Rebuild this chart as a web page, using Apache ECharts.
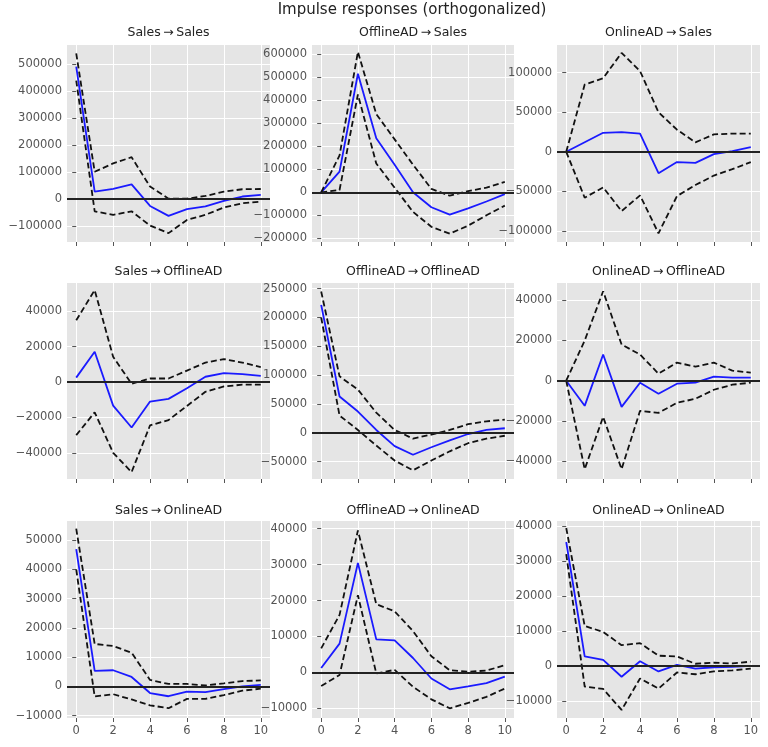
<!DOCTYPE html>
<html>
<head>
<meta charset="utf-8">
<script src="https://cdn.jsdelivr.net/npm/echarts@6/dist/echarts.min.js"></script>
<style>
html, body { margin: 0; padding: 0; background: #fff; }
#main { width: 768px; height: 747px; }
</style>
</head>
<body>
<div id="main"></div>
<script>
var lags = [0, 1, 2, 3, 4, 5, 6, 7, 8, 9, 10];
var xTicks = [0, 2, 4, 6, 8, 10];
var names = ['Sales', 'OfflineAD', 'OnlineAD'];

// response: Sales
var salesToSales    = [492000, 27000, 37000, 54000, -26000, -63000, -38000, -28000, -7000, 9000, 15000];
var salesToSalesUp  = [541000, 101000, 132000, 155000, 46000, 1000, 1000, 11000, 27000, 36000, 37000];
var salesToSalesLo  = [440000, -46000, -59000, -46000, -99000, -127000, -78000, -59000, -32000, -16000, -10000];
var offToSales      = [0, 90000, 515000, 235000, 120000, 0, -65000, -97000, -70000, -40000, -8000];
var offToSalesUp    = [0, 160000, 610000, 340000, 230000, 120000, 15000, -15000, 5000, 20000, 45000];
var offToSalesLo    = [0, 10000, 425000, 125000, 20000, -85000, -150000, -180000, -145000, -100000, -58000];
var onToSales       = [0, 12000, 24000, 25000, 23000, -27000, -13000, -14000, -3000, 1000, 6000];
var onToSalesUp     = [0, 85000, 93000, 125000, 102000, 50000, 28000, 12000, 22000, 23000, 23000];
var onToSalesLo     = [0, -58000, -45000, -75000, -55000, -103000, -56000, -42000, -30000, -22000, -13000];

// response: OfflineAD
var salesToOff      = [2500, 17100, -13300, -25700, -11000, -9500, -3500, 3000, 5000, 4500, 3500];
var salesToOffUp    = [34900, 52000, 14300, -1000, 2000, 2000, 6500, 11000, 13000, 11000, 8500];
var salesToOffLo    = [-30000, -17100, -40000, -50900, -24500, -21500, -13500, -5500, -2500, -1500, -1500];
var offToOff        = [222000, 63000, 37000, 5000, -23000, -38000, -25000, -13000, -2000, 5000, 8000];
var offToOffUp      = [245000, 98000, 75000, 35000, 5000, -10000, -3000, 5000, 15000, 20000, 23000];
var offToOffLo      = [200000, 30000, 5000, -22000, -48000, -65000, -48000, -32000, -18000, -10000, -5000];
var onToOff         = [0, -12500, 13000, -13000, -1000, -6500, -1500, -1000, 2000, 1500, 1500];
var onToOffUp       = [0, 20000, 44500, 18000, 13000, 3500, 9000, 7000, 9000, 5000, 4000];
var onToOffLo       = [0, -44000, -18000, -44000, -15000, -16000, -11000, -9000, -4500, -2000, -1000];

// response: OnlineAD
var salesToOn       = [47000, 5300, 5500, 3200, -2300, -3400, -1800, -2000, -1000, 0, 500];
var salesToOnUp     = [54000, 14500, 13800, 11500, 2200, 800, 800, 300, 1000, 1800, 2000];
var salesToOnLo     = [40000, -3500, -2700, -4500, -6500, -7500, -4300, -4300, -3000, -1500, -800];
var offToOn         = [1200, 8000, 30500, 9200, 8900, 4000, -1700, -4700, -3900, -3000, -1200];
var offToOnUp       = [6700, 16000, 39500, 19000, 17000, 11500, 4500, 600, 200, 500, 2000];
var offToOnLo       = [-3800, -700, 21500, -300, 700, -4000, -7500, -10000, -8500, -6800, -4500];
var onToOn          = [35500, 2800, 1800, -3000, 1400, -1500, 400, -700, -300, -200, 100];
var onToOnUp        = [39500, 11500, 9800, 6000, 6600, 3000, 2800, 700, 1000, 800, 1300];
var onToOnLo        = [32000, -5800, -6500, -12500, -3500, -6400, -1800, -2300, -1500, -1200, -700];

// y tick labels per panel (row-major)
var yTicksSalesSales = [-100000, 0, 100000, 200000, 300000, 400000, 500000];
var yTicksOffSales   = [-200000, -100000, 0, 100000, 200000, 300000, 400000, 500000, 600000];
var yTicksOnSales    = [-100000, -50000, 0, 50000, 100000];
var yTicksSalesOff   = [-40000, -20000, 0, 20000, 40000];
var yTicksOffOff     = [-50000, 0, 50000, 100000, 150000, 200000, 250000];
var yTicksOnOff      = [-40000, -20000, 0, 20000, 40000];
var yTicksSalesOn    = [-10000, 0, 10000, 20000, 30000, 40000, 50000];
var yTicksOffOn      = [-10000, 0, 10000, 20000, 30000, 40000];
var yTicksOnOn       = [-10000, 0, 10000, 20000, 30000, 40000];

// y axis limits per panel
var yMins = [-160000, -216000, -114000, -54800, -80000, -48900, -10850, -12700, -14800];
var yMaxs = [572000, 640000, 135000, 56000, 259800, 48600, 56600, 42150, 41500];

var irfs   = [salesToSales, offToSales, onToSales, salesToOff, offToOff, onToOff, salesToOn, offToOn, onToOn];
var uppers = [salesToSalesUp, offToSalesUp, onToSalesUp, salesToOffUp, offToOffUp, onToOffUp, salesToOnUp, offToOnUp, onToOnUp];
var lowers = [salesToSalesLo, offToSalesLo, onToSalesLo, salesToOffLo, offToOffLo, onToOffLo, salesToOnLo, offToOnLo, onToOnLo];
var yTicks = [yTicksSalesSales, yTicksOffSales, yTicksOnSales, yTicksSalesOff, yTicksOffOff, yTicksOnOff, yTicksSalesOn, yTicksOffOn, yTicksOnOn];

var colLeft = [67, 312, 557];
var colWidth = [203, 202, 203];
var rowTop = [45, 283, 521];
var rowHeight = [197, 196, 197];
var titleY = [33, 272, 511];

var font = 'DejaVu Sans';
var chartDom = document.getElementById('main');
var myChart = echarts.init(chartDom);

function pairs(vals) {
    return lags.map(function (l, k) { return [l, vals[k]]; });
}

var grids = [], xAxes = [], yAxes = [], series = [], texts = [];

texts.push({
    type: 'text', x: 412, y: 10,
    style: { text: 'Impulse responses (orthogonalized)', font: '15px "' + font + '"', fill: '#222', align: 'center', verticalAlign: 'middle' }
});

for (var i = 0; i < 9; i++) {
    var r = Math.floor(i / 3), c = i % 3;
    grids.push({
        left: colLeft[c], top: rowTop[r], width: colWidth[c], height: rowHeight[r],
        show: true, backgroundColor: '#E5E5E5', borderWidth: 0
    });
    xAxes.push({
        gridIndex: i, type: 'value', min: -0.5, max: 10.5,
        axisLine: { show: false, onZero: false },
        axisTick: { show: true, customValues: xTicks, length: 4, lineStyle: { color: '#555' } },
        axisLabel: { show: r === 2, customValues: xTicks, color: '#555', fontSize: 11.5, fontFamily: font, margin: 7 },
        splitLine: { show: true, lineStyle: { color: '#fff', width: 1 } }
    });
    yAxes.push({
        gridIndex: i, type: 'value', min: yMins[i], max: yMaxs[i],
        axisLine: { show: false },
        axisTick: { show: true, customValues: yTicks[i], length: 4, lineStyle: { color: '#555' } },
        axisLabel: {
            customValues: yTicks[i], color: '#555', fontSize: 11.5, fontFamily: font, margin: 5,
            formatter: function (v) { return String(v).replace('-', '\u2212'); }
        },
        splitLine: { show: true, lineStyle: { color: '#fff', width: 1 } }
    });
    series.push({
        type: 'line', xAxisIndex: i, yAxisIndex: i, data: pairs(irfs[i]), symbol: 'none',
        lineStyle: { color: '#1a1aff', width: 1.8 },
        markLine: {
            silent: true, symbol: 'none', label: { show: false },
            lineStyle: { color: '#222', width: 1.8, type: 'solid' },
            data: [{ yAxis: 0 }]
        }
    });
    series.push({
        type: 'line', xAxisIndex: i, yAxisIndex: i, data: pairs(uppers[i]), symbol: 'none',
        lineStyle: { color: '#111', width: 1.8, type: [6, 3.2] }
    });
    series.push({
        type: 'line', xAxisIndex: i, yAxisIndex: i, data: pairs(lowers[i]), symbol: 'none',
        lineStyle: { color: '#111', width: 1.8, type: [6, 3.2] }
    });
    texts.push({
        type: 'text', x: colLeft[c] + colWidth[c] / 2, y: titleY[r],
        style: { text: names[c] + '\u2009\u2192\u2009' + names[r], font: '12.5px "' + font + '"', fill: '#222', align: 'center', verticalAlign: 'middle' }
    });
}

var option = {
    animation: false,
    backgroundColor: '#fff',
    grid: grids,
    xAxis: xAxes,
    yAxis: yAxes,
    series: series,
    graphic: texts
};

option && myChart.setOption(option);
</script>
</body>
</html>
